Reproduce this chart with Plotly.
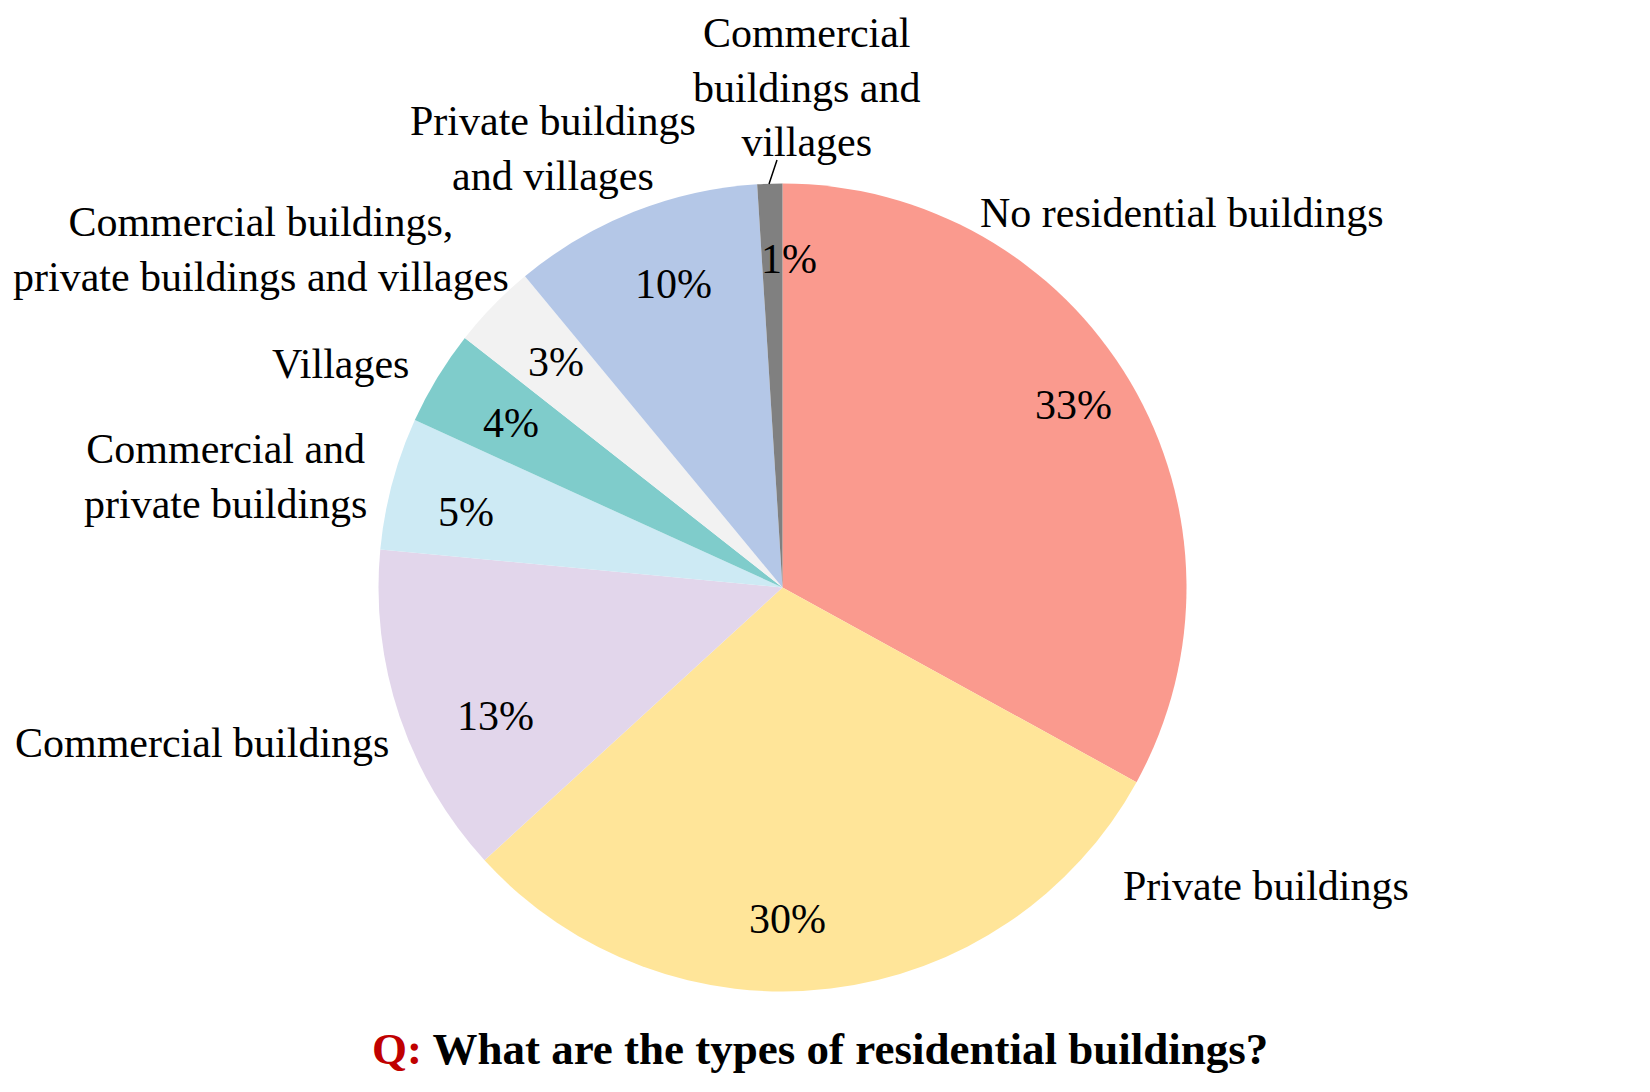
"""
Pie chart: types of residential buildings.
"""

import plotly.graph_objects as go

W, H = 1650, 1092
OFFSET = 8  # page body margin in the browser

# slices, clockwise from 12 o'clock
categories = [
    "No residential buildings",
    "Private buildings",
    "Commercial buildings",
    "Commercial and private buildings",
    "Villages",
    "Commercial buildings, private buildings and villages",
    "Private buildings and villages",
    "Commercial buildings and villages",
]
shares = [33.0, 30.2, 13.3, 5.3, 3.8, 3.4, 10.0, 1.0]
display_labels = [
    "No residential buildings",
    "Private buildings",
    "Commercial buildings",
    "Commercial and<br>private buildings",
    "Villages",
    "Commercial buildings,<br>private buildings and villages",
    "Private buildings<br>and villages",
    "Commercial<br>buildings and<br>villages",
]
colors = [
    "#FA9A8E",
    "#FFE599",
    "#E2D6EB",
    "#CDEAF4",
    "#7FCCCB",
    "#F2F2F2",
    "#B4C7E7",
    "#808080",
]

# label placement in pixels (x, y from top)
name_pos = [
    (1182, 213),
    (1266, 886),
    (202, 743),
    (226, 476),
    (340, 364),
    (261, 249),
    (553, 148),
    (807, 88),
]
pct_pos = [
    (1073, 405),
    (787, 919),
    (495, 716),
    (466, 512),
    (511, 423),
    (556, 362),
    (673, 284),
    (789, 259),
]


def px_x(x):
    return (x - OFFSET) / W


def px_y(y):
    return 1 - (y - OFFSET) / H


FONT = "Liberation Serif"

fig = go.Figure(
    go.Pie(
        labels=categories,
        values=shares,
        sort=False,
        direction="clockwise",
        rotation=0,
        marker=dict(colors=colors, line=dict(width=0)),
        textinfo="none",
        hoverinfo="label+percent",
        domain=dict(
            x=[px_x(378.5), px_x(1186.5)],
            y=[px_y(991.5), px_y(183.5)],
        ),
    )
)

total = sum(shares)
annotations = []

for label, (x, y) in zip(display_labels, name_pos):
    annotations.append(
        dict(
            text=label,
            x=px_x(x),
            y=px_y(y),
            xref="paper",
            yref="paper",
            showarrow=False,
            xanchor="center",
            yanchor="middle",
            align="center",
            font=dict(family=FONT, size=42, color="black"),
        )
    )

for value, (x, y) in zip(shares, pct_pos):
    annotations.append(
        dict(
            text=f"{round(value / total * 100)}%",
            x=px_x(x),
            y=px_y(y),
            xref="paper",
            yref="paper",
            showarrow=False,
            xanchor="center",
            yanchor="middle",
            font=dict(family=FONT, size=42, color="black"),
        )
    )

annotations.append(
    dict(
        text=(
            "<b><span style='color:#C00000'>Q:</span> "
            "What are the types of residential buildings?</b>"
        ),
        x=px_x(820),
        y=px_y(1049),
        xref="paper",
        yref="paper",
        showarrow=False,
        xanchor="center",
        yanchor="middle",
        font=dict(family=FONT, size=45, color="black"),
    )
)

fig.update_layout(
    width=W,
    height=H,
    margin=dict(l=0, r=0, t=0, b=0),
    paper_bgcolor="white",
    plot_bgcolor="white",
    showlegend=False,
    annotations=annotations,
    shapes=[
        dict(
            type="line",
            xref="paper",
            yref="paper",
            x0=px_x(777),
            y0=px_y(160),
            x1=px_x(769),
            y1=px_y(184),
            line=dict(color="black", width=1.5),
        )
    ],
)

fig.write_html("out.html")
